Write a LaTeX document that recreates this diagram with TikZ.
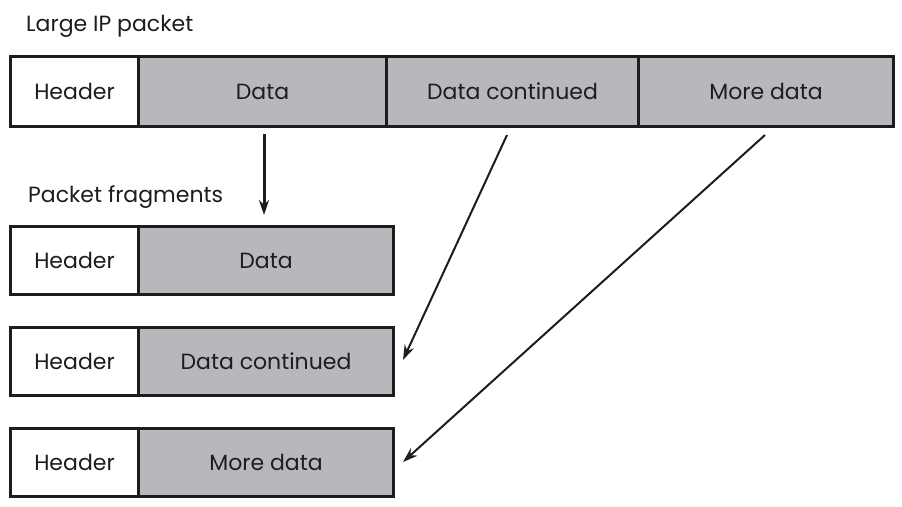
\documentclass[tikz,border=0pt]{standalone}
\usepackage{fontspec}
\setmainfont{Poppins}
\usetikzlibrary{arrows.meta,calc}
\definecolor{segfill}{RGB}{183,184,188}
\definecolor{inkc}{RGB}{30,28,30}
\begin{document}
\begin{tikzpicture}[x=1pt,y=-1pt,
  seg/.style={draw=inkc,line width=3pt,minimum height=#1,inner sep=0pt,anchor=north west,font=\fontsize{22}{26}\selectfont,text=inkc},
  hdr/.style={seg=#1,fill=white},
  dat/.style={seg=#1,fill=segfill},
  lbl/.style={anchor=west,font=\fontsize{22}{26}\selectfont,text=inkc,inner sep=0pt},
  arr/.style={draw=inkc,-{Stealth[length=15pt,width=10pt]}}]
\useasboundingbox (0,0) rectangle (902,506);
\node[lbl] (t1) at (26,26) {Large IP packet};
\node[dat=70,minimum width=248] (d1) at (137,55) {Data};
\node[dat=70,minimum width=252] (d2) at (385,55) {Data continued};
\node[dat=70,minimum width=255] (d3) at (637,55) {More data};
\node[hdr=70,minimum width=128] (h0) at (9,55) {Header};
\node[lbl] (t2) at (28,197) {Packet fragments};
\node[dat=68,minimum width=255] (fd1) at (137,225) {Data};
\node[hdr=68,minimum width=128] (fh1) at (9,225) {Header};
\node[dat=68,minimum width=255] (fd2) at (137,326) {Data continued};
\node[hdr=68,minimum width=128] (fh2) at (9,326) {Header};
\node[dat=68,minimum width=255] (fd3) at (137,427) {More data};
\node[hdr=68,minimum width=128] (fh3) at (9,427) {Header};
\coordinate (s1) at (264,134);
\coordinate (e1) at (264,215);
\coordinate (s2) at (507,135);
\coordinate (e2) at (403,360);
\coordinate (s3) at (765,135);
\coordinate (e3) at (403,462);
\draw[arr,line width=3pt] (s1) -- (e1);
\draw[arr,line width=2pt] (s2) -- (e2);
\draw[arr,line width=2pt] (s3) -- (e3);
\end{tikzpicture}
\end{document}
